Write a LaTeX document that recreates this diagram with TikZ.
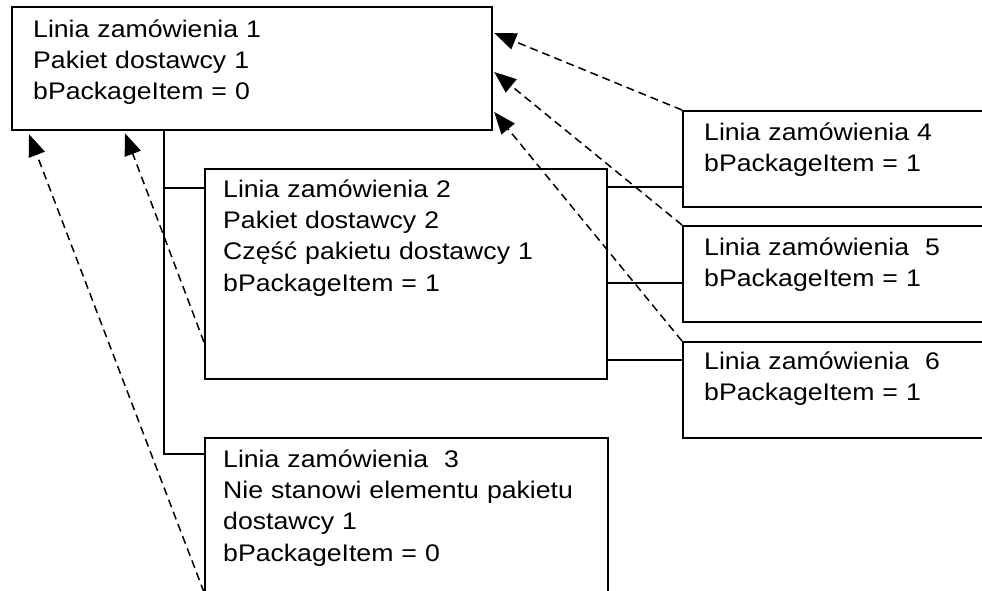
\documentclass[tikz,border=0pt]{standalone}
\usepackage{fontspec}
\setmainfont{Liberation Sans}[FakeStretch=1.11]
\usetikzlibrary{arrows.meta}
\begin{document}
\begin{tikzpicture}[x=1pt,y=-1pt,
  box/.style={draw, line width=2.2pt, rectangle, inner sep=0pt, anchor=north west},
  txt/.style={anchor=base west, inner sep=0pt, text width=420pt, align=left,
              font=\fontsize{24}{31.4}\selectfont},
  conn/.style={line width=1.8pt},
  dep/.style={line width=1.5pt, dash pattern=on 8pt off 5pt,
              -{Triangle[length=22pt,width=17pt]}}]
\clip (0,0) rectangle (982,590);
% boxes
\node[box, minimum width=480pt, minimum height=123pt] (b1) at (11,6) {};
\node[box, minimum width=402pt, minimum height=210pt] (b2) at (204,168) {};
\node[box, minimum width=403pt, minimum height=156pt] (b3) at (204,437) {};
\node[box, minimum width=310pt, minimum height=96pt] (b4) at (682,110) {};
\node[box, minimum width=310pt, minimum height=96pt] (b5) at (682,225) {};
\node[box, minimum width=310pt, minimum height=96pt] (b6) at (682,341) {};
% texts
\node[txt] (t1) at ([xshift=22pt,yshift=-31pt]b1.north west)
  {Linia zamówienia 1\\Pakiet dostawcy 1\\bPackageItem = 0};
\node[txt] (t2) at ([xshift=19pt,yshift=-29pt]b2.north west)
  {Linia zamówienia 2\\Pakiet dostawcy 2\\Część pakietu dostawcy 1\\bPackageItem = 1};
\node[txt] (t3) at ([xshift=19pt,yshift=-30pt]b3.north west)
  {Linia zamówienia\ \ 3\\Nie stanowi elementu pakietu\\dostawcy 1\\bPackageItem = 0};
\node[txt] (t4) at ([xshift=22pt,yshift=-30pt]b4.north west)
  {Linia zamówienia 4\\bPackageItem = 1};
\node[txt] (t5) at ([xshift=22pt,yshift=-30pt]b5.north west)
  {Linia zamówienia\ \ 5\\bPackageItem = 1};
\node[txt] (t6) at ([xshift=22pt,yshift=-28pt]b6.north west)
  {Linia zamówienia\ \ 6\\bPackageItem = 1};
% tree connectors
\coordinate (s0) at ([xshift=153pt]b1.south west);
\coordinate (s2) at ([yshift=-20pt]b2.north west);
\coordinate (s3) at ([yshift=-17pt]b3.north west);
\draw[conn] (s0) |- (s3);
\draw[conn] (s2) -- (s2 -| s0);
\coordinate (r4) at ([yshift=-77pt]b4.north west);
\coordinate (r5) at ([yshift=-58pt]b5.north west);
\coordinate (r6) at ([yshift=-19pt]b6.north west);
\draw[conn] (r4) -- (r4 -| b2.east);
\draw[conn] (r5) -- (r5 -| b2.east);
\draw[conn] (r6) -- (r6 -| b2.east);
% dashed dependency arrows
\draw[dep] (b4.north west) -- ([xshift=1pt,yshift=-27pt]b1.north east);
\draw[dep] (b5.north west) -- ([xshift=1pt,yshift=-66pt]b1.north east);
\draw[dep] (b6.north west) -- ([xshift=1pt,yshift=-106pt]b1.north east);
\draw[dep] ([yshift=38pt]b2.south west) -- ([xshift=114pt,yshift=-2pt]b1.south west);
\draw[dep] ([yshift=3pt]b3.south west) -- ([xshift=18pt,yshift=-3pt]b1.south west);
\end{tikzpicture}
\end{document}
